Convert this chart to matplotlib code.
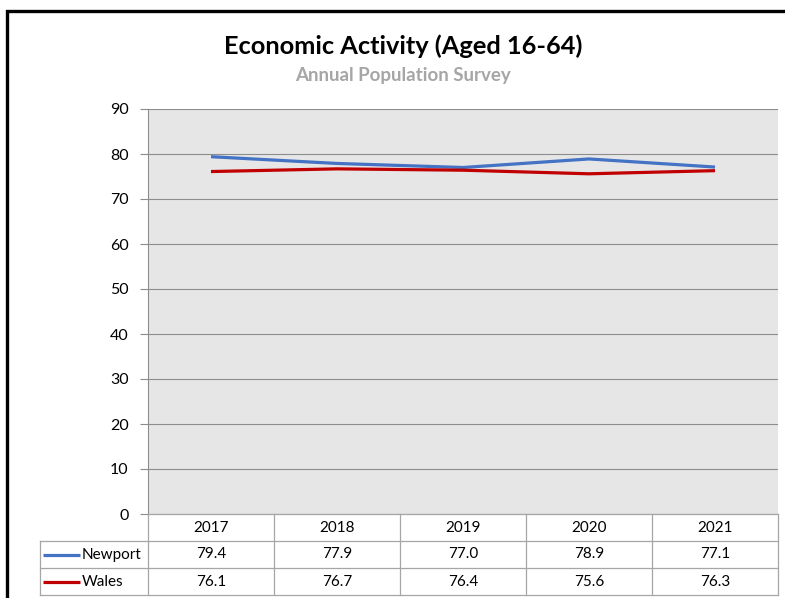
import matplotlib
matplotlib.use("Agg")
import matplotlib.pyplot as plt
from matplotlib.patches import Rectangle

years = ["2017", "2018", "2019", "2020", "2021"]
series_names = ["Newport", "Wales"]
newport = [79.4, 77.9, 77.0, 78.9, 77.1]
wales = [76.1, 76.7, 76.4, 75.6, 76.3]
series_values = [newport, wales]
series_colors = ["#4472C4", "#C00000"]
yticks = [0, 10, 20, 30, 40, 50, 60, 70, 80, 90]

plt.rcParams['font.family'] = ['Lato', 'DejaVu Sans']

W, H = 785, 598
fig = plt.figure(figsize=(W / 100, H / 100), dpi=100)
fig.patch.set_facecolor("white")

def fx(px):
    return px / W

def fy(py):
    return 1 - py / H

# outer border (top and left only visible)
fig.patches.append(Rectangle((fx(6.5), fy(700)), fx(900), fy(11) - fy(700),
                             transform=fig.transFigure, fill=False,
                             edgecolor="black", linewidth=2.4))

# plot area
L, R, T, B = 148, 778, 109, 514
ax = fig.add_axes([fx(L), fy(B), fx(R - L), fy(T) - fy(B)])
ax.set_facecolor("#E6E6E6")
x = list(range(len(years)))
for vals, col in zip(series_values, series_colors):
    ax.plot(x, vals, color=col, linewidth=2.3, solid_capstyle="butt", zorder=3)
ax.set_xlim(-0.5, len(years) - 0.5)
ax.set_ylim(0, 90)
ax.set_yticks(yticks)
ax.set_yticklabels([str(t) for t in yticks], fontsize=11.5)
ax.set_xticks([])
ax.yaxis.grid(True, color="#8C8C8C", linewidth=0.8)
ax.set_axisbelow(True)
for s in ["top", "right", "bottom"]:
    ax.spines[s].set_visible(False)
ax.spines["left"].set_color("#8C8C8C")
ax.spines["left"].set_linewidth(0.8)
ax.tick_params(axis="y", direction="out", length=6, color="#8C8C8C", width=0.8, pad=8)

# title
fig.text(fx(403), fy(46), "Economic Activity (Aged 16-64)", ha="center", va="center",
         fontsize=18.3, fontweight="bold", color="black")
fig.text(fx(403), fy(75), "Annual Population Survey", ha="center", va="center",
         fontsize=13.5, fontweight="bold", color="#A6A6A6")

# data table
TL, TR, TT, TB = 40, 778, 514, 595
tax = fig.add_axes([fx(TL), fy(TB), fx(TR - TL), fy(TT) - fy(TB)])
unit = (R - L) / len(years)
lab_w = (L - TL) / unit
tax.set_xlim(-0.5 - lab_w, len(years) - 0.5)
tax.set_ylim(3, 0)
tax.axis("off")
gc = "#A6A6A6"
lw = 0.9
n = len(years)
tax.plot([-0.5, n - 0.5], [0, 0], color=gc, lw=lw, clip_on=False)
for r in [1, 2, 3]:
    tax.plot([-0.5 - lab_w, n - 0.5], [r, r], color=gc, lw=lw, clip_on=False)
for c in range(n + 1):
    tax.plot([c - 0.5, c - 0.5], [0, 3], color=gc, lw=lw, clip_on=False)
tax.plot([-0.5 - lab_w, -0.5 - lab_w], [1, 3], color=gc, lw=lw, clip_on=False)
for i, yr in enumerate(years):
    tax.text(i, 0.5, yr, ha="center", va="center", fontsize=11)
x0 = -0.5 - lab_w
for r, (name, vals, col) in enumerate(zip(series_names, series_values, series_colors)):
    yy = r + 1.5
    tax.plot([x0 + 3 / unit, x0 + 40 / unit], [yy, yy], color=col, lw=2.3,
             solid_capstyle="butt", clip_on=False)
    tax.text(x0 + 42 / unit, yy, name, ha="left", va="center", fontsize=11)
    for i, v in enumerate(vals):
        tax.text(i, yy, f"{v:.1f}", ha="center", va="center", fontsize=11)

fig.savefig("out.png", dpi=100)
